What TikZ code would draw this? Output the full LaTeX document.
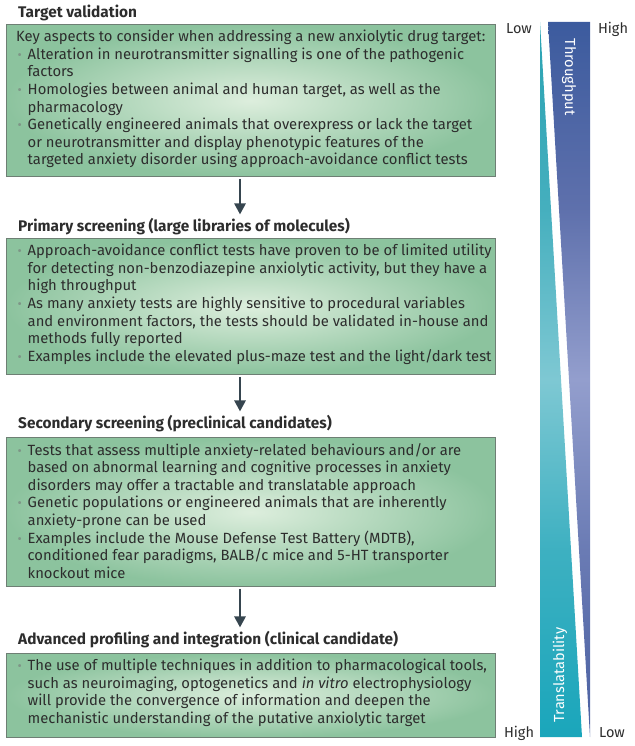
\documentclass[tikz,border=0pt]{standalone}
\usepackage{fontspec}
\setmainfont{Fira Sans}
\usetikzlibrary{arrows.meta}
\definecolor{txt}{HTML}{2D2D2D}
\definecolor{bulc}{HTML}{7E9687}
\definecolor{boxout}{HTML}{8CC39E}
\definecolor{boxin}{HTML}{DDEEDD}
\definecolor{boxline}{HTML}{6E7F74}
\definecolor{arrc}{HTML}{36454F}
\definecolor{blueA}{HTML}{3C5B9E}
\definecolor{blueD}{HTML}{5E70AC}
\definecolor{blueB}{HTML}{939ECD}
\definecolor{blueE}{HTML}{6A7BB4}
\definecolor{blueC}{HTML}{4A60A1}
\definecolor{tealA}{HTML}{2AA3B3}
\definecolor{tealD}{HTML}{45AFBE}
\definecolor{tealB}{HTML}{7EC8D3}
\definecolor{tealE}{HTML}{3DB0C1}
\definecolor{tealC}{HTML}{1AA6BB}
\pgfdeclareverticalshading{blueshade}{100bp}{color(0bp)=(blueC); color(25bp)=(blueC); color(38bp)=(blueE); color(50bp)=(blueB); color(62bp)=(blueD); color(75bp)=(blueA); color(100bp)=(blueA)}
\pgfdeclareverticalshading{tealshade}{100bp}{color(0bp)=(tealC); color(25bp)=(tealC); color(38bp)=(tealE); color(50bp)=(tealB); color(62bp)=(tealD); color(75bp)=(tealA); color(100bp)=(tealA)}
\newcommand\bl{\makebox[11.5pt][l]{\hspace{1.5pt}\textcolor{bulc}{\fontsize{13}{13}\selectfont •}}}
\newcommand\ct{\hspace*{11.5pt}}
\tikzset{
  greenbox/.style={draw=boxline, line width=0.8pt, inner sep=0pt, anchor=north west,
    inner color=boxin, outer color=boxout, minimum width=489pt},
  boxtext/.style={anchor=north west, inner sep=0pt, align=left, text=txt,
    font=\fontsize{14.8}{17.6}\selectfont},
  heading/.style={anchor=west, inner sep=0pt, text=txt, font=\fontsize{15.4}{17}\selectfont\bfseries},
  arr/.style={arrc, line width=2.6pt, -{Triangle[length=11pt,width=11pt]}},
  sidelabel/.style={inner sep=0pt, text=txt, font=\fontsize{14.5}{16}\selectfont},
  barlabel/.style={inner sep=0pt, text=white, font=\fontsize{14.6}{15}\selectfont}
}
\begin{document}
\begin{tikzpicture}[x=1pt,y=-1pt]
\useasboundingbox (0,0) rectangle (634,746);
% triangles
\shade[shading=blueshade] (548,22) -- (590,22) -- (590,737) -- cycle;
\shade[shading=tealshade] (540,22) -- (582,737) -- (540,737) -- cycle;
\node[barlabel, rotate=-90] (thr) at (569,77) {Throughput};
\node[barlabel, rotate=90] (trn) at (560,675) {Translatability};
\node[sidelabel] (lowt) at (519,29) {Low};
\node[sidelabel] (hight) at (613,29) {High};
\node[sidelabel] (highb) at (519,733) {High};
\node[sidelabel] (lowb) at (612,733) {Low};
% headings and boxes
\node[heading] (h1) at (18,13) {Target validation};
\node[greenbox, minimum height=152pt] (b1) at (6,24) {};
\node[boxtext] (t1) at (16,30) {Key aspects to consider when addressing a new anxiolytic drug target:\\
\bl Alteration in neurotransmitter signalling is one of the pathogenic\\
\ct factors\\
\bl Homologies between animal and human target, as well as the\\
\ct pharmacology\\
\bl Genetically engineered animals that overexpress or lack the target\\
\ct or neurotransmitter and display phenotypic features of the\\
\ct targeted anxiety disorder using approach-avoidance conflict tests};
\node[heading] (h2) at (18,227) {Primary screening (large libraries of molecules)};
\node[greenbox, minimum height=136pt] (b2) at (6,238) {};
\node[boxtext] (t2) at (16,244) {\bl Approach-avoidance conflict tests have proven to be of limited utility\\
\ct for detecting non-benzodiazepine anxiolytic activity, but they have a\\
\ct high throughput\\
\bl As many anxiety tests are highly sensitive to procedural variables\\
\ct and environment factors, the tests should be validated in-house and\\
\ct methods fully reported\\
\bl Examples include the elevated plus-maze test and the light/dark test};
\node[heading] (h3) at (18,424) {Secondary screening (preclinical candidates)};
\node[greenbox, minimum height=149pt] (b3) at (6,437) {};
\node[boxtext] (t3) at (16,443) {\bl Tests that assess multiple anxiety-related behaviours and/or are\\
\ct based on abnormal learning and cognitive processes in anxiety\\
\ct disorders may offer a tractable and translatable approach\\
\bl Genetic populations or engineered animals that are inherently\\
\ct anxiety-prone can be used\\
\bl Examples include the Mouse Defense Test Battery (MDTB),\\
\ct conditioned fear paradigms, BALB/c mice and 5-HT transporter\\
\ct knockout mice};
\node[heading] (h4) at (18,640) {Advanced profiling and integration (clinical candidate)};
\node[greenbox, minimum height=84pt] (b4) at (6,653) {};
\node[boxtext] (t4) at (16,659) {\bl The use of multiple techniques in addition to pharmacological tools,\\
\ct such as neuroimaging, optogenetics and \textit{in vitro} electrophysiology\\
\ct will provide the convergence of information and deepen the\\
\ct mechanistic understanding of the putative anxiolytic target};
% arrows
\coordinate (ax) at (240,0);
\draw[arr] ([yshift=-2pt]b1.south -| ax) -- ([yshift=4pt]h2.north -| ax);
\draw[arr] ([yshift=-2pt]b2.south -| ax) -- ([yshift=4pt]h3.north -| ax);
\draw[arr] ([yshift=-2pt]b3.south -| ax) -- ([yshift=4pt]h4.north -| ax);
\end{tikzpicture}
\end{document}
